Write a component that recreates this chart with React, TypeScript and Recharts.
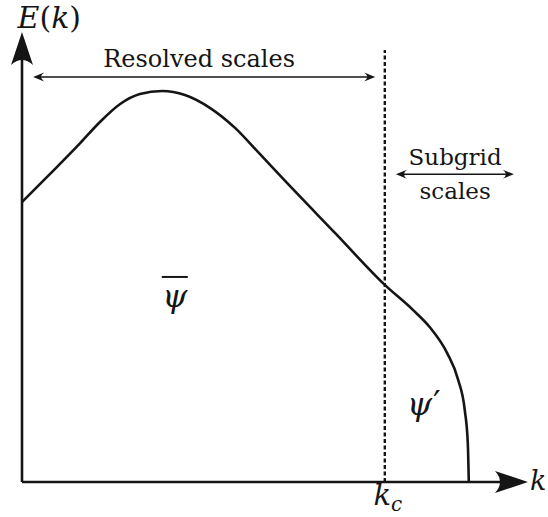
import { LineChart, Line, XAxis, YAxis, ReferenceLine, ReferenceDot } from 'recharts'

// wavenumber k and spectrum E(k), in plot units (0..10 on both axes)
const K_VALUES = [0, 0.55, 1.15, 1.54, 1.94, 2.33, 2.77, 3.22, 3.72, 4.21, 4.7, 5.2, 6.19, 7.17, 7.73, 8.06, 8.4, 8.62, 8.75, 8.81, 8.83]
const E_VALUES = [6.22, 6.84, 7.53, 8.0, 8.4, 8.62, 8.69, 8.6, 8.31, 7.87, 7.29, 6.69, 5.53, 4.38, 3.82, 3.44, 2.87, 2.27, 1.6, 0.87, 0]

const K_CUTOFF = 7.17
const CUTOFF_TOP = 9.6

const RESOLVED_SPAN = [0.22, 6.98]
const RESOLVED_LEVEL = 9.0
const SUBGRID_SPAN = [7.39, 9.72]
const SUBGRID_LEVEL = 6.84

const data = K_VALUES.map((k, i) => ({ k, E: E_VALUES[i] }))

const INK = '#151515'
const TEXT_FONT = '"DejaVu Serif", serif'

type HeadKind = 'stealth' | 'to'

const HEADS = {
  stealth: { len: 33, half: 11, notch: 5 },
  to: { len: 11, half: 4.5, notch: 3 },
}

function ArrowShape(props: any) {
  const { x1, y1, x2, y2, kind, both, strokeWidth } = props
  const ax = Number(x1)
  const ay = Number(y1)
  const bx = Number(x2)
  const by = Number(y2)
  const h = HEADS[kind as HeadKind]
  const dx = bx - ax
  const dy = by - ay
  const dist = Math.hypot(dx, dy)
  const ux = dx / dist
  const uy = dy / dist
  const back = h.len - h.notch
  const sx = both ? ax + ux * back : ax
  const sy = both ? ay + uy * back : ay
  const ex = bx - ux * back
  const ey = by - uy * back
  const angle = (Math.atan2(dy, dx) * 180) / Math.PI
  const head = `M0,0 L${-h.len},${-h.half} Q${-h.len + h.notch * 2},0 ${-h.len},${h.half} Z`
  return (
    <g>
      <line x1={sx} y1={sy} x2={ex} y2={ey} stroke={INK} strokeWidth={strokeWidth} />
      <path d={head} fill={INK} transform={`translate(${bx},${by}) rotate(${angle})`} />
      {both && (
        <path d={head} fill={INK} transform={`translate(${ax},${ay}) rotate(${angle + 180})`} />
      )}
    </g>
  )
}

function label(render: (x: number, y: number) => any) {
  return (p: any) => render(Number(p.cx), Number(p.cy))
}

export default function App() {
  return (
    <div style={{ position: 'absolute', left: 0, top: 0, width: 548, height: 517, background: '#fff' }}>
      <LineChart
        width={548}
        height={517}
        data={data}
        margin={{ top: 32, right: 20, bottom: 35, left: 22 }}
      >
        <XAxis type="number" dataKey="k" domain={[0, 10]} hide />
        <YAxis type="number" domain={[0, 10]} hide />

        {/* axes with filled arrowheads */}
        <ReferenceLine
          segment={[{ x: 0, y: 0 }, { x: 0, y: 10 }]}
          ifOverflow="visible"
          shape={(p: any) => <ArrowShape {...p} kind="stealth" strokeWidth={2.6} />}
        />
        <ReferenceLine
          segment={[{ x: 0, y: 0 }, { x: 10, y: 0 }]}
          ifOverflow="visible"
          shape={(p: any) => <ArrowShape {...p} kind="stealth" strokeWidth={2.6} />}
        />

        {/* cutoff wavenumber */}
        <ReferenceLine
          segment={[{ x: K_CUTOFF, y: 0 }, { x: K_CUTOFF, y: CUTOFF_TOP }]}
          ifOverflow="visible"
          stroke={INK}
          strokeWidth={2.4}
          strokeDasharray="4 2.5"
        />

        {/* range arrows */}
        <ReferenceLine
          segment={[{ x: RESOLVED_SPAN[0], y: RESOLVED_LEVEL }, { x: RESOLVED_SPAN[1], y: RESOLVED_LEVEL }]}
          ifOverflow="visible"
          shape={(p: any) => <ArrowShape {...p} kind="to" both strokeWidth={1.4} />}
        />
        <ReferenceLine
          segment={[{ x: SUBGRID_SPAN[0], y: SUBGRID_LEVEL }, { x: SUBGRID_SPAN[1], y: SUBGRID_LEVEL }]}
          ifOverflow="visible"
          shape={(p: any) => <ArrowShape {...p} kind="to" both strokeWidth={1.4} />}
        />

        <Line
          type="monotone"
          dataKey="E"
          stroke={INK}
          strokeWidth={2.6}
          dot={false}
          activeDot={false}
          isAnimationActive={false}
        />

        {/* text annotations */}
        <ReferenceDot
          x={0.5}
          y={10.1}
          r={0}
          ifOverflow="visible"
          shape={label((x, y) => (
            <text x={x + 2} y={y} textAnchor="middle" fontFamily={TEXT_FONT} fontSize={30} fill={INK}>
              <tspan fontStyle="italic">E</tspan>(<tspan fontStyle="italic">k</tspan>)
            </text>
          ))}
        />
        <ReferenceDot
          x={10.2}
          y={-0.18}
          r={0}
          ifOverflow="visible"
          shape={label((x, y) => (
            <text x={x} y={y} textAnchor="middle" fontFamily={TEXT_FONT} fontSize={27} fontStyle="italic" fill={INK}>
              k
            </text>
          ))}
        />
        <ReferenceDot
          x={K_CUTOFF}
          y={-0.5}
          r={0}
          ifOverflow="visible"
          shape={label((x, y) => (
            <text x={x + 3} y={y} textAnchor="middle" fontFamily={TEXT_FONT} fontSize={29} fontStyle="italic" fill={INK}>
              k<tspan fontSize={20} dy={6}>c</tspan>
            </text>
          ))}
        />
        <ReferenceDot
          x={3.5}
          y={9.22}
          r={0}
          ifOverflow="visible"
          shape={label((x, y) => (
            <text x={x} y={y} textAnchor="middle" fontFamily={TEXT_FONT} fontSize={24} fill={INK}>
              Resolved scales
            </text>
          ))}
        />
        <ReferenceDot
          x={8.56}
          y={7.04}
          r={0}
          ifOverflow="visible"
          shape={label((x, y) => (
            <text x={x} y={y} textAnchor="middle" fontFamily={TEXT_FONT} fontSize={23} fill={INK}>
              Subgrid
            </text>
          ))}
        />
        <ReferenceDot
          x={8.56}
          y={6.29}
          r={0}
          ifOverflow="visible"
          shape={label((x, y) => (
            <text x={x} y={y} textAnchor="middle" fontFamily={TEXT_FONT} fontSize={23} fill={INK}>
              scales
            </text>
          ))}
        />
        <ReferenceDot
          x={3.02}
          y={3.89}
          r={0}
          ifOverflow="visible"
          shape={label((x, y) => (
            <g>
              <line x1={x - 13} y1={y - 30} x2={x + 13} y2={y - 30} stroke={INK} strokeWidth={2} />
              <text x={x} y={y} textAnchor="middle" fontFamily={TEXT_FONT} fontSize={32} fontStyle="italic" fill={INK}>
                ψ
              </text>
            </g>
          ))}
        />
        <ReferenceDot
          x={8.02}
          y={1.49}
          r={0}
          ifOverflow="visible"
          shape={label((x, y) => (
            <text x={x - 4} y={y} textAnchor="middle" fontFamily={TEXT_FONT} fontSize={32} fontStyle="italic" fill={INK}>
              ψ<tspan fontStyle="normal" fontSize={34} dx={1}>′</tspan>
            </text>
          ))}
        />
      </LineChart>
    </div>
  )
}
